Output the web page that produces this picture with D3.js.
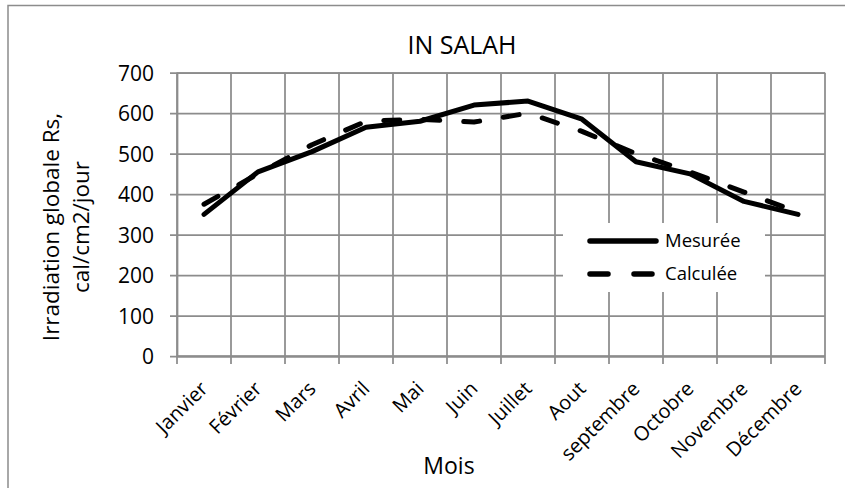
<!DOCTYPE html>
<html>
<head>
<meta charset="utf-8">
<script src="https://cdn.jsdelivr.net/npm/d3@7"></script>
<style>
  body { margin: 0; background: #fff; }
  svg text { font-family: "Open Sans", "Noto Sans", sans-serif; fill: #000; }
</style>
</head>
<body>
<div id="chart"></div>
<script>
// Months (x categories)
const months = ["Janvier", "Février", "Mars", "Avril", "Mai", "Juin",
    "Juillet", "Aout", "septembre", "Octobre", "Novembre", "Décembre"];

// Series values (cal/cm2/jour)
const mesuree = [350, 455, 505, 565, 580, 620, 630, 585, 480, 450, 382, 350];
const calculee = [375, 450, 522, 580, 585, 578, 600, 555, 500, 455, 405, 355];

const yTicks = [0, 100, 200, 300, 400, 500, 600, 700];
const seriesNames = ["Mesurée", "Calculée"];

const width = 845, height = 488;
const plot = { left: 177, right: 825, top: 72.7, bottom: 356 };

const svg = d3.select("#chart")
    .append("svg")
    .attr("width", width)
    .attr("height", height);

// outer chart border (runs past right and bottom edge)
svg.append("rect")
    .attr("x", 8).attr("y", 5.5)
    .attr("width", 900).attr("height", 600)
    .attr("fill", "none")
    .attr("stroke", "#8c8c8c")
    .attr("stroke-width", 1.5);

const x = d3.scaleBand()
    .domain(months)
    .range([plot.left, plot.right]);

const y = d3.scaleLinear()
    .domain([0, 700])
    .range([plot.bottom, plot.top]);

const gridColor = "#8c8c8c";

// horizontal grid + y ticks
const yAxis = d3.axisLeft(y)
    .tickValues(yTicks)
    .tickSize(-(plot.right - plot.left))
    .tickPadding(0)
    .tickFormat(d => d);

const gy = svg.append("g")
    .attr("transform", `translate(${plot.left},0)`)
    .call(yAxis);
gy.select(".domain").attr("stroke", gridColor).attr("stroke-width", 1.75);
gy.selectAll(".tick line")
    .attr("x1", -7)
    .attr("stroke", gridColor)
    .attr("stroke-width", 1.75);
gy.selectAll(".tick text")
    .attr("x", -23)
    .attr("dy", "0.36em")
    .attr("font-size", 21);

// vertical grid at category boundaries
const bounds = months.map(m => x(m) + x.bandwidth());
svg.append("g")
    .selectAll("line")
    .data(bounds)
    .join("line")
    .attr("x1", d => d).attr("x2", d => d)
    .attr("y1", plot.top).attr("y2", plot.bottom + 8)
    .attr("stroke", gridColor)
    .attr("stroke-width", 1.75);

// bottom axis line and tick at origin
svg.append("line")
    .attr("x1", plot.left).attr("x2", plot.right)
    .attr("y1", plot.bottom).attr("y2", plot.bottom)
    .attr("stroke", gridColor).attr("stroke-width", 1.75);
svg.append("line")
    .attr("x1", plot.left).attr("x2", plot.left)
    .attr("y1", plot.top).attr("y2", plot.bottom + 8)
    .attr("stroke", gridColor).attr("stroke-width", 1.75);

// month labels, rotated
svg.append("g")
    .selectAll("text")
    .data(months)
    .join("text")
    .attr("transform", d => `translate(${x(d) + x.bandwidth() / 2},${plot.bottom + 29}) rotate(-45)`)
    .attr("text-anchor", "end")
    .attr("dy", "0.35em")
    .attr("font-size", 20)
    .text(d => d);

// legend box (drawn before lines so it hides the grid)
const legend = svg.append("g");
legend.append("rect")
    .attr("x", 563).attr("y", 223)
    .attr("width", 202).attr("height", 69)
    .attr("fill", "#fff");

// series lines
const line = d3.line()
    .x((d, i) => x(months[i]) + x.bandwidth() / 2)
    .y(d => y(d));

svg.append("path")
    .datum(calculee)
    .attr("d", line)
    .attr("fill", "none")
    .attr("stroke", "#000")
    .attr("stroke-width", 5)
    .attr("stroke-linecap", "round")
    .attr("stroke-linejoin", "round")
    .attr("stroke-dasharray", "16,24");

svg.append("path")
    .datum(mesuree)
    .attr("d", line)
    .attr("fill", "none")
    .attr("stroke", "#000")
    .attr("stroke-width", 5)
    .attr("stroke-linecap", "round")
    .attr("stroke-linejoin", "round");

// legend entries
const legY = [241, 274];
seriesNames.forEach((name, i) => {
    legend.append("line")
        .attr("x1", 590).attr("x2", 656)
        .attr("y1", legY[i]).attr("y2", legY[i])
        .attr("stroke", "#000")
        .attr("stroke-width", 5.5)
        .attr("stroke-linecap", "round")
        .attr("stroke-dasharray", i === 1 ? "18,26" : null);
    legend.append("text")
        .attr("x", 665).attr("y", legY[i])
        .attr("dy", "0.35em")
        .attr("font-size", 18.5)
        .text(name);
});

// title
svg.append("text")
    .attr("x", 462).attr("y", 54)
    .attr("text-anchor", "middle")
    .attr("font-size", 25)
    .text("IN SALAH");

// y axis title (two lines)
const yTitle = ["Irradiation globale Rs,", "cal/cm2/jour"];
const yTitleX = [59, 89];
yTitle.forEach((t, i) => {
    svg.append("text")
        .attr("transform", `translate(${yTitleX[i]},227) rotate(-90)`)
        .attr("text-anchor", "middle")
        .attr("font-size", 22.5)
        .text(t);
});

// x axis title
svg.append("text")
    .attr("x", 449).attr("y", 474)
    .attr("text-anchor", "middle")
    .attr("font-size", 23)
    .text("Mois");
</script>
</body>
</html>
